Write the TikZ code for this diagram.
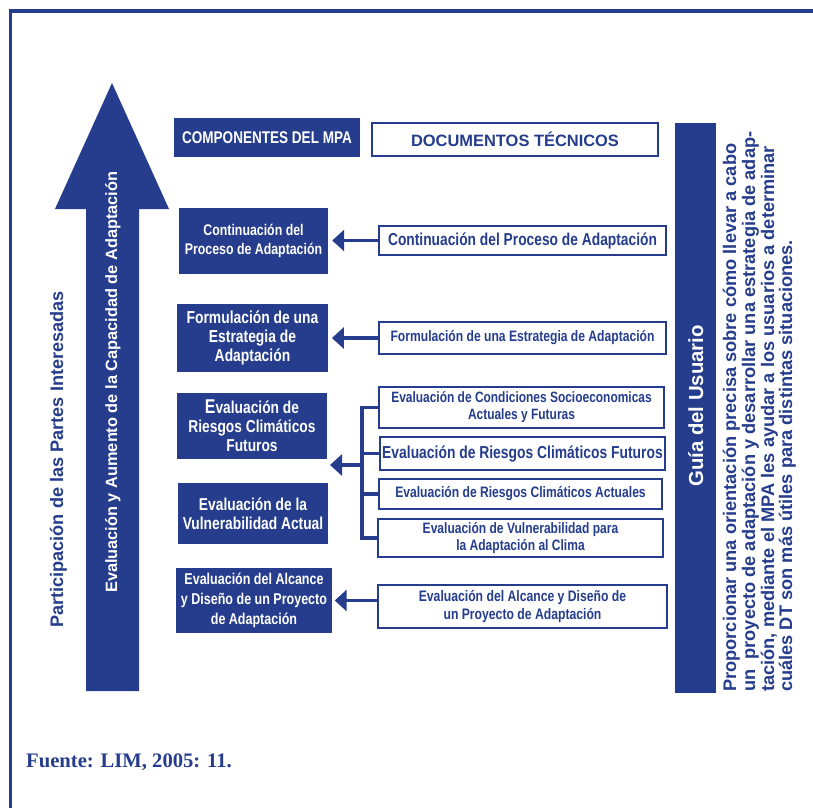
\documentclass[tikz,border=0pt]{standalone}
\usepackage{fontspec}
\setmainfont{Liberation Sans}
\newfontfamily\cnd{Liberation Sans}[FakeStretch=0.8]
\newfontfamily\serifb{Liberation Serif}
\usetikzlibrary{arrows.meta}
\definecolor{mpablue}{RGB}{37,61,140}
\newcommand\fs[2]{\fontsize{#1}{#2}\selectfont}
\begin{document}
\begin{tikzpicture}[x=1bp,y=-1bp,
  lbox/.style={fill=mpablue,text=white,inner sep=0pt,align=center},
  rbox/.style={draw=mpablue,line width=2bp,fill=white,text=mpablue,inner sep=0pt,align=center},
  conn/.style={draw=mpablue,line width=3.5bp},
  arr/.style={conn,-{Triangle[length=12bp,width=21bp]}},
  vtext/.style={rotate=90,anchor=base west,inner sep=0pt,text=mpablue,font=\bfseries\fs{18.3}{19}}
]
\useasboundingbox (0,0) rectangle (813,808);

% frame
\draw[mpablue,line width=3.5bp] (10.5,808) -- (10.5,11) -- (813,11);

% big arrow
\fill[mpablue] (112,83) -- (169,209) -- (139,209) -- (139,691) -- (86,691) -- (86,209) -- (55,209) -- cycle;
\node[rotate=90,anchor=base west,inner sep=0pt,text=white,font=\bfseries\fs{16.4}{19}] (cap) at (117,593)
  {Evaluación y Aumento de la Capacidad de Adaptación};
\node[rotate=90,anchor=base west,inner sep=0pt,text=mpablue,font=\bfseries\fs{18.2}{20}] (part) at (63,628)
  {Participación de las Partes Interesadas};

% left column (MPA components)
\node[lbox,minimum width=186bp,minimum height=39bp,font=\cnd\bfseries\fs{17}{20}] (comp) at (267,137.5) {COMPONENTES DEL MPA};
\node[lbox,minimum width=149bp,minimum height=66bp,font=\cnd\bfseries\fs{15.5}{19}] (l1) at (253.5,241) {Continuación del\\Proceso de Adaptación};
\node[lbox,minimum width=151bp,minimum height=68bp,font=\cnd\bfseries\fs{17.4}{19}] (l2) at (252.5,338) {Formulación de una\\Estrategia de\\Adaptación};
\node[lbox,minimum width=150bp,minimum height=66bp,font=\cnd\bfseries\fs{17.3}{19}] (l3) at (252,426) {{\fs{20}{19}E}valuación de\\Riesgos Climáticos\\Futuros};
\node[lbox,minimum width=150bp,minimum height=61bp,font=\cnd\bfseries\fs{17.3}{19.5}] (l4) at (253,513.5) {Evaluación de la\\Vulnerabilidad Actual};
\node[lbox,minimum width=156bp,minimum height=65bp,font=\cnd\bfseries\fs{15.7}{20}] (l5) at (254,600.5) {Evaluación del Alcance\\y Diseño de un Proyecto\\de Adaptación};

% right column (technical documents)
\node[rbox,minimum width=286bp,minimum height=33bp,font=\bfseries\fs{16.5}{19}] (doc) at (515,139.5) {DOCUMENTOS TÉCNICOS};
\node[rbox,minimum width=287bp,minimum height=29bp,font=\cnd\bfseries\fs{17.3}{19}] (r1) at (522.5,240.5) {Continuación del Proceso de Adaptación};
\node[rbox,minimum width=287bp,minimum height=32bp,font=\cnd\bfseries\fs{15.2}{18}] (r2) at (522.5,338) {Formulación de una Estrategia de Adaptación};
\node[rbox,minimum width=285bp,minimum height=41bp,font=\cnd\bfseries\fs{15}{17}] (r3a) at (521.5,407.5) {Evaluación de Condiciones Socioeconomicas\\Actuales y Futuras};
\node[rbox,minimum width=285bp,minimum height=33bp,font=\cnd\bfseries\fs{17.4}{19}] (r3b) at (522.5,453.5) {Evaluación de Riesgos Climáticos Futuros};
\node[rbox,minimum width=283bp,minimum height=30bp,font=\cnd\bfseries\fs{15.2}{18}] (r3c) at (520.5,494) {Evaluación de Riesgos Climáticos Actuales};
\node[rbox,minimum width=285bp,minimum height=38bp,font=\cnd\bfseries\fs{15.1}{17}] (r3d) at (520.5,538) {Evaluación de Vulnerabilidad para\\la Adaptación al Clima};
\node[rbox,minimum width=289bp,minimum height=43bp,font=\cnd\bfseries\fs{15.3}{18}] (r5) at (522.5,606.5) {Evaluación del Alcance y Diseño de\\un Proyecto de Adaptación};

% connectors
\draw[arr,shorten >=4bp] (r1.west) -- (r1.west -| l1.east);
\draw[arr,shorten >=3.7bp] (r2.west) -- (r2.west -| l2.east);
\coordinate (jn) at (362,465);
\coordinate (tip3) at (330,465);
\draw[conn] (r3a.west) -| (jn |- r3d.west) -- (r3d.west);
\draw[conn] (r3b.west) -- (r3b.west -| jn);
\draw[conn] (r3c.west) -- (r3c.west -| jn);
\draw[arr] (jn) -- (tip3);
\draw[arr,shorten >=2.5bp] (r5.west |- l5.east) -- (l5.east);

% user guide bar
\node[fill=mpablue,minimum width=41bp,minimum height=570bp,inner sep=0pt] (bar) at (695.5,408) {};
\node[rotate=90,anchor=base,inner sep=0pt,text=white,font=\bfseries\fs{20.4}{24}] (guia) at (703,406) {Guía del Usuario};

% description
\node[vtext] (p1) at (736,692) {Proporcionar una orientación precisa sobre cómo llevar a cabo};
\node[vtext] (p2) at (755,692) {un~~proyecto de adaptación y desarrollar una estrategia de adap-};
\node[vtext] (p3) at (774,692) {tación, mediante el MPA les ayudar a los usuarios a determinar};
\node[vtext] (p4) at (792,692) {cuáles DT son más útiles para distintas situaciones.};

% source
\node[anchor=base west,inner sep=0pt,text=mpablue,font=\serifb\bfseries\fs{20.7}{24}] (src) at (26,767) {Fuente: LIM, 2005: 11.};
\end{tikzpicture}
\end{document}
